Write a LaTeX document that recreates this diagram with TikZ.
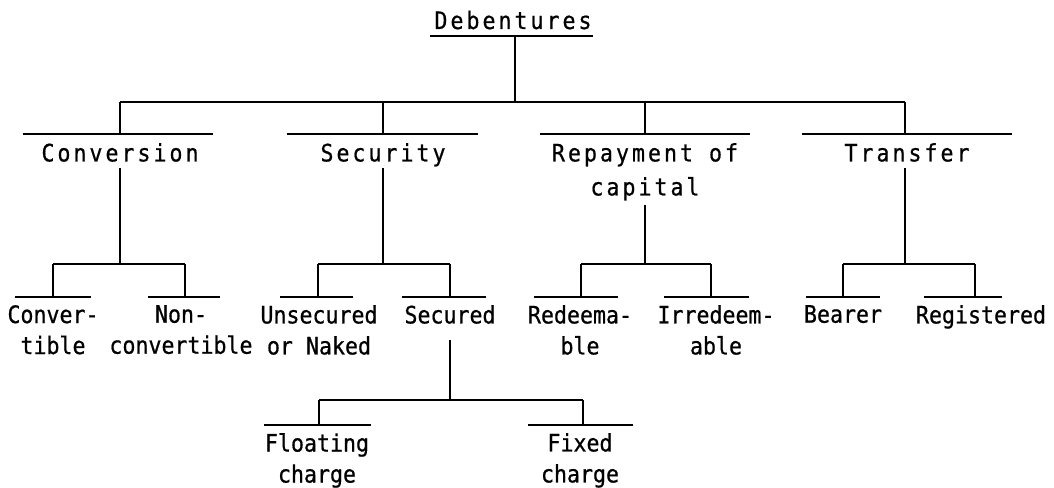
\documentclass[tikz,border=0pt]{standalone}
\usepackage{fontspec}
\newfontfamily\lblfont[FakeStretch=0.9,FakeBold=0.7]{DejaVu Sans Mono}
\newfontfamily\headfont[FakeStretch=0.9,FakeBold=0.7,LetterSpace=12.5]{DejaVu Sans Mono}
\begin{document}
\begin{tikzpicture}[x=1pt,y=-1pt,
  lbl/.style={inner sep=0pt, anchor=north, align=center, font=\lblfont\fontsize{24}{31}\selectfont},
  head/.style={inner sep=0pt, anchor=north, align=center, font=\headfont\fontsize{24}{34}\selectfont},
  uline/.style={line width=2.6pt},
  conn/.style={line width=1.8pt}]
\useasboundingbox (0,0) rectangle (1054,487);

% root
\node[head, anchor=base] (deb) at (513,29) {Debentures};
\coordinate (deb-ua) at (430,36); \coordinate (deb-ub) at (593,36);
\coordinate (deb-ut) at (515,36); \coordinate (j0) at (515,102);
\draw[uline] (deb-ua) -- (deb-ub);
\draw[conn] (deb-ut) -- (j0);
\coordinate (b0a) at (120,102); \coordinate (b0b) at (905,102);
\draw[conn] (b0a) -- (b0b);

% level 1
\foreach \n/\cx/\ua/\ub/\dy in {conv/120/23/213/168, sec/383/287/478/168, rep/645/540/750/205, tra/905/802/1012/168}{
  \coordinate (\n-top) at (\cx,102);
  \coordinate (\n-ua) at (\ua,134); \coordinate (\n-ub) at (\ub,134);
  \coordinate (\n-ut) at (\cx,134);
  \coordinate (\n-d) at (\cx,\dy); \coordinate (\n-j) at (\cx,264);
  \draw[uline] (\n-ua) -- (\n-ub);
  \draw[conn] (\n-top) -- (\n-ut);
  \draw[conn] (\n-d) -- (\n-j);
}
\node[head] (conv) at (120,143) {Conversion};
\node[head] (sec) at (383,143) {Security};
\node[head] (rep) at (645,143) {Repayment of\\capital};
\node[head] (tra) at (907,143) {Transfer};

% level 2 bars
\foreach \n/\a/\b in {conv/53/185, sec/318/450, rep/581/711, tra/843/975}{
  \coordinate (\n-ba) at (\a,264); \coordinate (\n-bb) at (\b,264);
  \draw[conn] (\n-ba) -- (\n-bb);
}

% level 2 items
\foreach \n/\cx/\ua/\ub in {cvt/53/15/91, ncv/185/148/220, uns/318/280/353, scd/450/402/486, red/581/534/618, irr/711/664/749, bea/843/806/880, reg/975/924/1002}{
  \coordinate (\n-top) at (\cx,264);
  \coordinate (\n-ua) at (\ua,297); \coordinate (\n-ub) at (\ub,297);
  \coordinate (\n-ut) at (\cx,297);
  \draw[uline] (\n-ua) -- (\n-ub);
  \draw[conn] (\n-top) -- (\n-ut);
}
\node[lbl] (cvt) at (53,305) {Conver-\\tible};
\node[lbl] (ncv) at (181,305) {Non-\\convertible};
\node[lbl] (uns) at (319,305) {Unsecured\\or Naked};
\node[lbl] (scd) at (450,305) {Secured};
\node[lbl] (red) at (580,305) {Redeema-\\ble};
\node[lbl] (irr) at (716,305) {Irredeem-\\able};
\node[lbl] (bea) at (843,305) {Bearer};
\node[lbl] (reg) at (981,305) {Registered};

% level 3
\coordinate (scd-d) at (450,340); \coordinate (scd-j) at (450,400);
\draw[conn] (scd-d) -- (scd-j);
\coordinate (b3a) at (319,400); \coordinate (b3b) at (583,400);
\draw[conn] (b3a) -- (b3b);
\foreach \n/\cx/\ua/\ub in {flo/319/264/371, fix/583/528/633}{
  \coordinate (\n-top) at (\cx,400);
  \coordinate (\n-ua) at (\ua,425); \coordinate (\n-ub) at (\ub,425);
  \coordinate (\n-ut) at (\cx,425);
  \draw[uline] (\n-ua) -- (\n-ub);
  \draw[conn] (\n-top) -- (\n-ut);
}
\node[lbl] (flo) at (317,433) {Floating\\charge};
\node[lbl] (fix) at (580,433) {Fixed\\charge};
\end{tikzpicture}
\end{document}
